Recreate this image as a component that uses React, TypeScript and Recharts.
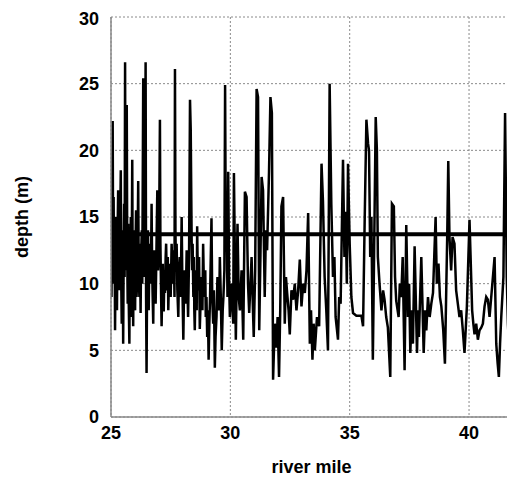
import { LineChart, Line, XAxis, YAxis, CartesianGrid, ReferenceLine } from "recharts";

// river mile positions and sounded depth (m)
const riverMile = [
  25.0, 25.02, 25.04, 25.07, 25.09, 25.11, 25.13, 25.15, 25.17, 25.19, 25.21, 25.23, 25.25, 25.27, 25.3, 25.32,
  25.34, 25.36, 25.38, 25.41, 25.43, 25.45, 25.47, 25.49, 25.51, 25.53, 25.55, 25.57, 25.59, 25.61, 25.63, 25.66,
  25.68, 25.7, 25.72, 25.74, 25.77, 25.79, 25.81, 25.83, 25.85, 25.87, 25.89, 25.91, 25.93, 25.95, 25.97, 25.99,
  26.01, 26.03, 26.05, 26.07, 26.09, 26.11, 26.14, 26.16, 26.19, 26.21, 26.24, 26.26, 26.29, 26.31, 26.35, 26.37,
  26.4, 26.42, 26.45, 26.47, 26.49, 26.51, 26.53, 26.55, 26.58, 26.6, 26.63, 26.65, 26.68, 26.7, 26.72, 26.74,
  26.77, 26.79, 26.82, 26.84, 26.87, 26.9, 26.94, 26.97, 27.0, 27.02, 27.05, 27.07, 27.1, 27.12, 27.15, 27.17,
  27.19, 27.21, 27.24, 27.26, 27.29, 27.31, 27.34, 27.36, 27.38, 27.4, 27.43, 27.46, 27.5, 27.54, 27.57, 27.6,
  27.63, 27.66, 27.68, 27.7, 27.72, 27.75, 27.78, 27.82, 27.85, 27.88, 27.92, 27.96, 27.99, 28.03, 28.06, 28.09,
  28.13, 28.17, 28.2, 28.23, 28.27, 28.31, 28.34, 28.38, 28.4, 28.42, 28.45, 28.47, 28.49, 28.51, 28.54, 28.56,
  28.59, 28.61, 28.64, 28.66, 28.69, 28.72, 28.76, 28.79, 28.83, 28.86, 28.89, 28.92, 28.95, 28.97, 29.0, 29.03,
  29.06, 29.09, 29.12, 29.15, 29.18, 29.21, 29.24, 29.28, 29.31, 29.35, 29.38, 29.42, 29.46, 29.49, 29.53, 29.56,
  29.6, 29.64, 29.68, 29.71, 29.75, 29.78, 29.81, 29.84, 29.88, 29.91, 29.95, 29.98,
  30.05, 30.12, 30.15, 30.23, 30.3, 30.35, 30.4, 30.47, 30.54, 30.61, 30.68, 30.74, 30.79, 30.89, 30.94, 30.98,
  31.04, 31.1, 31.16, 31.21, 31.26, 31.31, 31.37, 31.44, 31.49, 31.54, 31.62, 31.68, 31.74, 31.79, 31.86, 31.93,
  31.98, 32.04, 32.09, 32.14, 32.21, 32.28, 32.33, 32.38, 32.44, 32.49, 32.56, 32.63, 32.7, 32.77, 32.84, 32.91,
  32.98, 33.05, 33.12, 33.19, 33.26, 33.33, 33.38, 33.44, 33.49, 33.54, 33.63, 33.72, 33.82, 33.88, 33.95, 34.02,
  34.09, 34.16, 34.23, 34.3, 34.36, 34.41, 34.51, 34.56, 34.62, 34.72, 34.78, 34.83, 34.88, 34.93, 35.0, 35.07,
  35.14, 35.28, 35.49, 35.56, 35.63, 35.7, 35.77, 35.81, 35.86, 35.91, 35.97, 36.09, 36.14, 36.18, 36.25, 36.33,
  36.4, 36.46, 36.53, 36.6, 36.7, 36.77, 36.85, 36.9, 36.95, 37.05, 37.1, 37.16, 37.22, 37.3, 37.37, 37.44,
  37.49, 37.54, 37.6, 37.65, 37.72, 37.82, 37.86, 37.9, 38.0, 38.1, 38.16, 38.21, 38.28, 38.35, 38.42, 38.49,
  38.6, 38.65, 38.72, 38.78, 38.84, 38.92, 38.99, 39.09, 39.13, 39.18, 39.25, 39.31, 39.39, 39.46, 39.53, 39.6,
  39.67, 39.74, 39.81, 39.91, 40.02, 40.13, 40.18, 40.23, 40.3, 40.37, 40.44, 40.51, 40.58, 40.65, 40.72, 40.79,
  40.86, 40.93, 41.0, 41.07, 41.14, 41.2, 41.25, 41.3, 41.35, 41.44, 41.51, 41.58, 41.63, 41.67, 41.72, 41.77,
  41.8,
];

const depth = [
  13.5, 9.0, 15.0, 22.2, 12.0, 16.5, 10.0, 14.5, 6.5, 12.0, 15.0, 9.5, 8.0, 13.0, 17.0, 11.0,
  9.5, 15.5, 14.0, 18.5, 10.0, 7.0, 14.0, 12.5, 5.5, 12.0, 16.0, 10.5, 26.6, 11.0, 15.0, 23.4,
  12.0, 8.5, 14.5, 9.0, 5.5, 13.0, 11.0, 15.0, 7.5, 12.0, 19.3, 10.0, 6.8, 14.0, 13.0, 9.0,
  8.0, 13.0, 15.5, 9.0, 10.0, 12.0, 17.7, 11.0, 9.0, 13.0, 7.8, 12.0, 14.0, 10.0, 25.4, 12.0,
  10.5, 14.0, 26.6, 9.0, 3.3, 9.5, 11.0, 14.0, 8.0, 11.0, 13.0, 10.0, 12.0, 16.0, 12.0, 9.5,
  7.0, 11.0, 12.5, 9.5, 8.5, 12.0, 17.0, 11.0, 12.0, 15.0, 22.3, 13.0, 9.0, 6.8, 10.0, 11.5,
  8.0, 8.0, 11.0, 9.3, 12.0, 13.0, 10.0, 9.5, 12.0, 8.0, 10.5, 11.5, 9.0, 13.0, 11.0, 10.0,
  12.5, 9.0, 26.1, 14.0, 11.0, 13.0, 9.5, 7.5, 11.0, 12.0, 9.0, 15.0, 10.0, 5.8, 9.5, 11.0,
  8.5, 12.5, 10.0, 7.5, 12.0, 23.8, 21.5, 13.0, 11.0, 13.0, 9.0, 12.0, 8.0, 6.5, 10.0, 11.0,
  8.0, 14.3, 10.0, 9.5, 12.0, 6.6, 9.0, 10.5, 8.0, 13.0, 10.0, 9.0, 11.0, 7.5, 9.0, 6.0,
  8.0, 4.3, 7.0, 9.0, 12.0, 14.9, 9.0, 7.0, 9.5, 3.7, 6.0, 7.5, 10.5, 10.0, 8.0, 12.0,
  9.0, 5.0, 8.0, 9.0, 11.0, 24.9, 13.0, 15.4, 9.0, 18.4, 10.0, 7.5,
  10.0, 7.0, 18.3, 5.8, 14.5, 9.0, 8.0, 11.0, 5.8, 16.9, 16.5, 10.0, 7.8, 12.0, 8.5, 6.0,
  11.0, 24.6, 24.0, 6.5, 12.0, 18.0, 17.0, 9.0, 14.0, 12.5, 18.4, 24.0, 22.8, 2.8, 7.0, 5.2,
  7.5, 3.0, 8.0, 15.8, 16.5, 7.0, 10.5, 9.3, 8.0, 6.2, 9.5, 8.8, 10.0, 8.0, 9.5, 11.8,
  8.3, 10.0, 9.3, 11.0, 15.3, 5.5, 8.0, 4.3, 7.0, 5.0, 7.5, 6.8, 19.0, 16.2, 10.5, 8.0,
  5.0, 25.0, 16.0, 10.5, 12.0, 7.5, 5.8, 9.0, 8.5, 19.3, 12.0, 15.4, 10.0, 19.0, 13.0, 9.0,
  7.8, 7.6, 7.6, 6.8, 15.0, 22.3, 20.5, 20.0, 12.0, 15.0, 4.3, 22.5, 20.0, 12.0, 10.0, 8.0,
  9.5, 8.8, 7.5, 6.7, 3.0, 16.0, 15.8, 10.5, 8.7, 7.5, 10.0, 9.0, 12.0, 3.5, 14.4, 7.5,
  10.0, 4.8, 8.0, 5.5, 12.8, 4.8, 8.0, 6.0, 12.0, 4.8, 8.0, 6.5, 9.0, 7.5, 8.5, 9.3,
  15.0, 10.0, 11.5, 9.0, 8.3, 6.5, 4.0, 14.0, 19.2, 13.5, 11.0, 13.5, 13.0, 9.5, 8.5, 7.5,
  8.0, 6.5, 4.8, 8.3, 14.8, 8.0, 7.0, 6.2, 7.0, 5.8, 6.5, 6.7, 7.0, 8.3, 9.0, 8.8,
  7.5, 9.0, 10.5, 12.0, 5.5, 4.0, 3.0, 5.5, 7.5, 10.5, 22.8, 10.5, 7.0, 5.5, 6.0, 6.7,
  6.0,
];

const meanDepth = 13.7;
const xTicks = [25, 30, 35, 40];
const yTicks = [0, 5, 10, 15, 20, 25, 30];

const data = riverMile.map((m, i) => ({ mile: m, depth: depth[i] }));

const font = { fontFamily: "Liberation Sans, Arial, sans-serif", fontWeight: 700, fontSize: 18, fill: "#000" };

export default function App() {
  return (
    <LineChart width={507} height={475} data={data} margin={{ top: 9, right: 3, left: 0, bottom: 36 }}>
      <CartesianGrid stroke="#8a8a8a" strokeDasharray="2 2" strokeWidth={1} />
      <XAxis
        dataKey="mile"
        type="number"
        domain={[25, 41.8]}
        ticks={xTicks}
        allowDataOverflow
        height={30}
        tickSize={0}
        tickMargin={9}
        tick={font}
        axisLine={{ stroke: "#888", strokeWidth: 1.5 }}
        label={{ value: "river mile", position: "bottom", offset: 13, style: font }}
      />
      <XAxis xAxisId="top" orientation="top" dataKey="mile" type="number" domain={[25, 41.8]} height={0} tick={false} tickLine={false} axisLine={{ stroke: "#888", strokeWidth: 1.5 }} />
      <YAxis
        domain={[0, 30]}
        ticks={yTicks}
        width={103}
        tickSize={0}
        tickMargin={12}
        tick={font}
        axisLine={{ stroke: "#888", strokeWidth: 1.5 }}
        label={{ value: "depth (m)", angle: -90, position: "insideLeft", offset: 14, style: { ...font, textAnchor: "middle" } }}
      />
      <YAxis yAxisId="right" orientation="right" domain={[0, 30]} width={0} tick={false} tickLine={false} axisLine={{ stroke: "#888", strokeWidth: 1.5 }} />
      <Line dataKey="depth" type="linear" stroke="#000" strokeWidth={2.5} dot={false} isAnimationActive={false} />
      <ReferenceLine y={meanDepth} stroke="#000" strokeWidth={4} />
    </LineChart>
  );
}
